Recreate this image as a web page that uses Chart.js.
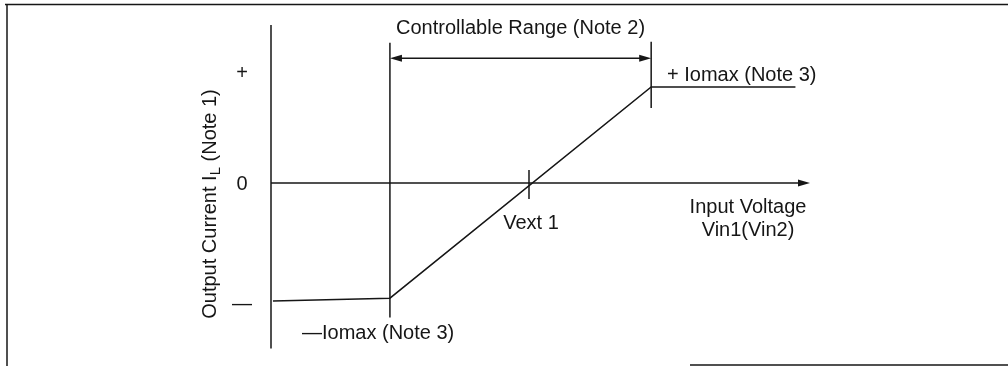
<!DOCTYPE html>
<html>
<head>
<meta charset="utf-8">
<script src="https://cdn.jsdelivr.net/npm/chart.js@4"></script>
<style>
  html, body { margin: 0; padding: 0; background: #fff; }
  #wrap { width: 1008px; height: 366px; }
</style>
</head>
<body>
<div id="wrap"><canvas id="chart" width="1008" height="366"></canvas></div>
<script>
// transfer curve: input voltage vs output current (normalised, +Iomax = 1)
const inputVoltage = [-1.97, -1.07, 0.94, 2.05];
const outputCurrent = [-1.23, -1.20, 1.0, 1.0];

// controllable range limits and Vext 1 crossing
const rangeStart = -1.07;
const rangeEnd = 0.94;
const vext1 = 0;

// y axis marks
const yTickValues = [1.135, 0, -1.27];
const yTickLabels = ["+", "0", "—"];

const X_MIN = -1.985, X_MAX = 2.162;
const Y_MIN = -1.725, Y_MAX = 1.645;

const ink = "#161616";
const font = '20px "Liberation Sans", Arial, sans-serif';
const subFont = '15px "Liberation Sans", Arial, sans-serif';

function line(ctx, x1, y1, x2, y2) {
  ctx.beginPath();
  ctx.moveTo(x1, y1);
  ctx.lineTo(x2, y2);
  ctx.stroke();
}

function arrowHead(ctx, x, y, dir) {
  // dir = 1 points right, -1 points left
  ctx.beginPath();
  ctx.moveTo(x, y);
  ctx.lineTo(x - dir * 12, y - 3.5);
  ctx.lineTo(x - dir * 12, y + 3.5);
  ctx.closePath();
  ctx.fill();
}

const diagramPlugin = {
  id: "diagram",
  afterDraw(chart) {
    const ctx = chart.ctx;
    const xs = chart.scales.x;
    const ys = chart.scales.y;
    const px = v => xs.getPixelForValue(v);
    const py = v => ys.getPixelForValue(v);

    ctx.save();
    ctx.strokeStyle = ink;
    ctx.fillStyle = ink;
    ctx.lineWidth = 1.5;

    // frame
    line(ctx, 5, 4.5, 1008, 4.5);
    line(ctx, 7, 4.5, 7, 366);
    line(ctx, 690, 365, 1008, 365);

    // axes
    line(ctx, px(X_MIN), py(Y_MAX), px(X_MIN), py(Y_MIN));
    line(ctx, px(X_MIN), py(0), px(X_MAX) - 8, py(0));
    arrowHead(ctx, px(X_MAX), py(0), 1);

    // controllable range markers
    line(ctx, px(rangeStart), py(1.46), px(rangeStart), py(-1.40));
    line(ctx, px(rangeEnd), py(1.47), px(rangeEnd), py(0.78));
    line(ctx, px(rangeStart) + 6, py(1.30), px(rangeEnd) - 6, py(1.30));
    arrowHead(ctx, px(rangeStart), py(1.30), -1);
    arrowHead(ctx, px(rangeEnd), py(1.30), 1);

    // Vext 1 tick
    line(ctx, px(vext1), py(0.135), px(vext1), py(-0.167));

    // texts
    ctx.font = font;
    ctx.textBaseline = "middle";
    ctx.textAlign = "center";
    ctx.fillText("Controllable Range (Note 2)", (px(rangeStart) + px(rangeEnd)) / 2, 28);
    ctx.fillText("Vext 1", px(vext1) + 2, 223);
    ctx.fillText("Input Voltage", 748, 207);
    ctx.fillText("Vin1(Vin2)", 748, 230);

    yTickValues.forEach((v, i) => {
      ctx.fillText(yTickLabels[i], 242, py(v) + (v === 0 ? 2 : 0));
    });

    ctx.textAlign = "left";
    ctx.fillText("+ Iomax (Note 3)", 667, 75);
    ctx.fillText("—Iomax (Note 3)", 302, 333);

    // rotated y title with subscript
    ctx.translate(210, 204);
    ctx.rotate(-Math.PI / 2);
    const main = "Output Current I";
    const sub = "L";
    const rest = " (Note 1)";
    ctx.font = font;
    const wMain = ctx.measureText(main).width;
    const wRest = ctx.measureText(rest).width;
    ctx.font = subFont;
    const wSub = ctx.measureText(sub).width;
    const x0 = -(wMain + wSub + wRest) / 2;
    ctx.font = font;
    ctx.fillText(main, x0, 0);
    ctx.font = subFont;
    ctx.fillText(sub, x0 + wMain, 6);
    ctx.font = font;
    ctx.fillText(rest, x0 + wMain + wSub, 0);

    ctx.restore();
  },
};

new Chart(document.getElementById("chart"), {
  type: "scatter",
  data: {
    datasets: [{
      label: "Output Current",
      data: inputVoltage.map((v, i) => ({ x: v, y: outputCurrent[i] })),
      showLine: true,
      borderColor: ink,
      borderWidth: 1.5,
      pointRadius: 0,
      tension: 0,
    }],
  },
  options: {
    responsive: false,
    animation: false,
    devicePixelRatio: 1,
    layout: {
      padding: { left: 271, right: 198, top: 25, bottom: 17.4 },
    },
    plugins: {
      legend: { display: false },
      tooltip: { enabled: false },
    },
    scales: {
      x: { type: "linear", min: X_MIN, max: X_MAX, display: false },
      y: { type: "linear", min: Y_MIN, max: Y_MAX, display: false },
    },
  },
  plugins: [diagramPlugin],
});
</script>
</body>
</html>
